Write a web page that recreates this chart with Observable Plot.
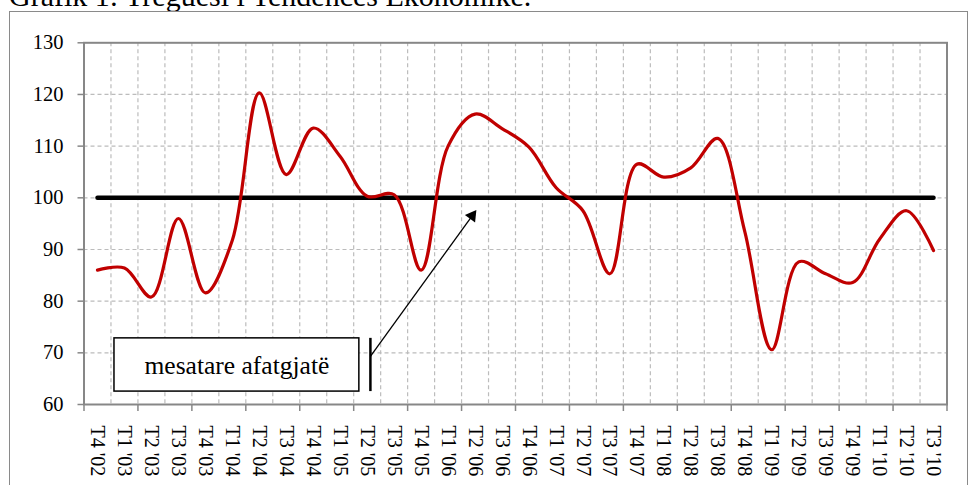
<!DOCTYPE html>
<html>
<head>
<meta charset="utf-8">
<script src="https://cdn.jsdelivr.net/npm/d3@7"></script>
<script src="https://cdn.jsdelivr.net/npm/@observablehq/plot@0.6"></script>
<style>
  html, body { margin: 0; padding: 0; background: white; }
  body { width: 970px; height: 485px; overflow: hidden; position: relative; font-family: "Liberation Serif", "Times New Roman", serif; }
  #title { position: absolute; left: 9px; top: -18.6px; font-size: 30px; line-height: 1; white-space: nowrap; color: black; }
  #border { position: absolute; left: 9px; top: 11px; width: 957px; height: 520px; border: 1.5px solid #8a8a8a; pointer-events: none; }
  #chart { position: absolute; left: 0; top: 0; }
  #chart svg, #chart svg text { font-family: "Liberation Serif", "Times New Roman", serif !important; }
</style>
</head>
<body>
<div id="title">Grafik 1: Treguesi i Tendencës Ekonomike.</div>
<div id="border"></div>
<div id="chart"></div>
<script>
const categories = ["T4 '02","T1 '03","T2 '03","T3 '03","T4 '03","T1 '04","T2 '04","T3 '04","T4 '04","T1 '05","T2 '05","T3 '05","T4 '05","T1 '06","T2 '06","T3 '06","T4 '06","T1 '07","T2 '07","T3 '07","T4 '07","T1 '08","T2 '08","T3 '08","T4 '08","T1 '09","T2 '09","T3 '09","T4 '09","T1 '10","T2 '10","T3 '10"];
const indicator = [86.0,86.4,80.8,96.0,81.6,91.8,120.3,104.5,113.5,108.0,100.3,100.6,86.0,110.0,116.2,113.4,109.8,102.0,97.5,85.3,106.5,104.0,105.8,111.5,93.5,70.6,87.6,85.3,83.6,92.0,97.5,89.8];
const longTermAverage = [100,100,100,100,100,100,100,100,100,100,100,100,100,100,100,100,100,100,100,100,100,100,100,100,100,100,100,100,100,100,100,100];
const yTicks = [60,70,80,90,100,110,120,130];
const annotationLabel = "mesatare afatgjatë";
// annotation placement in data units (category index, value)
const annBox = [{x1: 1.13, x2: 10.21, y1: 62.5, y2: 72.8, cx: 5.67, cy: 67.4}];
const annBar = [{x: 10.62, y1: 62.5, y2: 72.8}];
const annArrow = [{x1: 10.62, y1: 69.3, x2: 14.5, y2: 97.3}];

const serif = "'Liberation Serif','Times New Roman',serif";
const data = categories.map((c, i) => ({i: i + 0.5, c, v: indicator[i], a: longTermAverage[i]}));
const n = categories.length;
const gridPos = d3.range(1, n);
const tickPos = d3.range(0, n + 1, 2);
const arrowAngle = (() => {
  const a = annArrow[0];
  const dxp = (a.x2 - a.x1) * 26.97, dyp = (a.y2 - a.y1) * 5.167;
  return Math.atan2(dxp, dyp) * 180 / Math.PI;
})();

const chart = Plot.plot({
  width: 970,
  height: 485,
  marginLeft: 83.5,
  marginRight: 23.5,
  marginTop: 42.3,
  marginBottom: 81,
  style: {fontFamily: serif, background: "transparent", color: "black", overflow: "visible"},
  x: {domain: [0, n], axis: null},
  y: {domain: [60, 130], axis: null},
  marks: [
    Plot.gridX(gridPos, {stroke: "#bcbcbc", strokeOpacity: 1, strokeWidth: 1.2, strokeDasharray: "4,3"}),
    Plot.gridY(yTicks.filter(t => t > 60 && t < 130), {stroke: "#bcbcbc", strokeOpacity: 1, strokeWidth: 1.2, strokeDasharray: "4,3"}),
    Plot.frame({stroke: "#878787", strokeWidth: 2}),
    Plot.axisY(yTicks, {tickSize: 6, tickPadding: 14.5, fontSize: 20.5, fontFamily: serif, stroke: "#878787", strokeWidth: 1.5, fill: "black"}),
    Plot.axisX(tickPos, {tickSize: 7, stroke: "#878787", strokeWidth: 1.5, tickFormat: () => ""}),
    Plot.axisX(data.map(d => d.i), {tickSize: 0, tickPadding: 21, tickRotate: 90, fontSize: 20, fontFamily: serif, fill: "black", tickFormat: d => categories[Math.floor(d)]}),
    Plot.line(data, {x: "i", y: "a", stroke: "black", strokeWidth: 4.5}),
    Plot.line(data, {x: "i", y: "v", stroke: "#C00000", strokeWidth: 3.2, curve: "catmull-rom"}),
    Plot.rect(annBox, {x1: "x1", x2: "x2", y1: "y1", y2: "y2", fill: "white", stroke: "black", strokeWidth: 1.5}),
    Plot.text(annBox, {x: "cx", y: "cy", text: () => annotationLabel, fontSize: 25.5, fontFamily: serif, fill: "black"}),
    Plot.ruleX(annBar, {x: "x", y1: "y1", y2: "y2", stroke: "black", strokeWidth: 2.5}),
    Plot.link(annArrow, {x1: "x1", y1: "y1", x2: "x2", y2: "y2", stroke: "black", strokeWidth: 1.3}),
    Plot.dot(annArrow, {x: "x2", y: "y2", symbol: "triangle2", r: 6, fill: "black", stroke: "none", rotate: arrowAngle,
      dx: -Math.sin(arrowAngle * Math.PI / 180) * 5, dy: Math.cos(arrowAngle * Math.PI / 180) * 5})
  ]
});
document.getElementById("chart").appendChild(chart);
</script>
</body>
</html>
